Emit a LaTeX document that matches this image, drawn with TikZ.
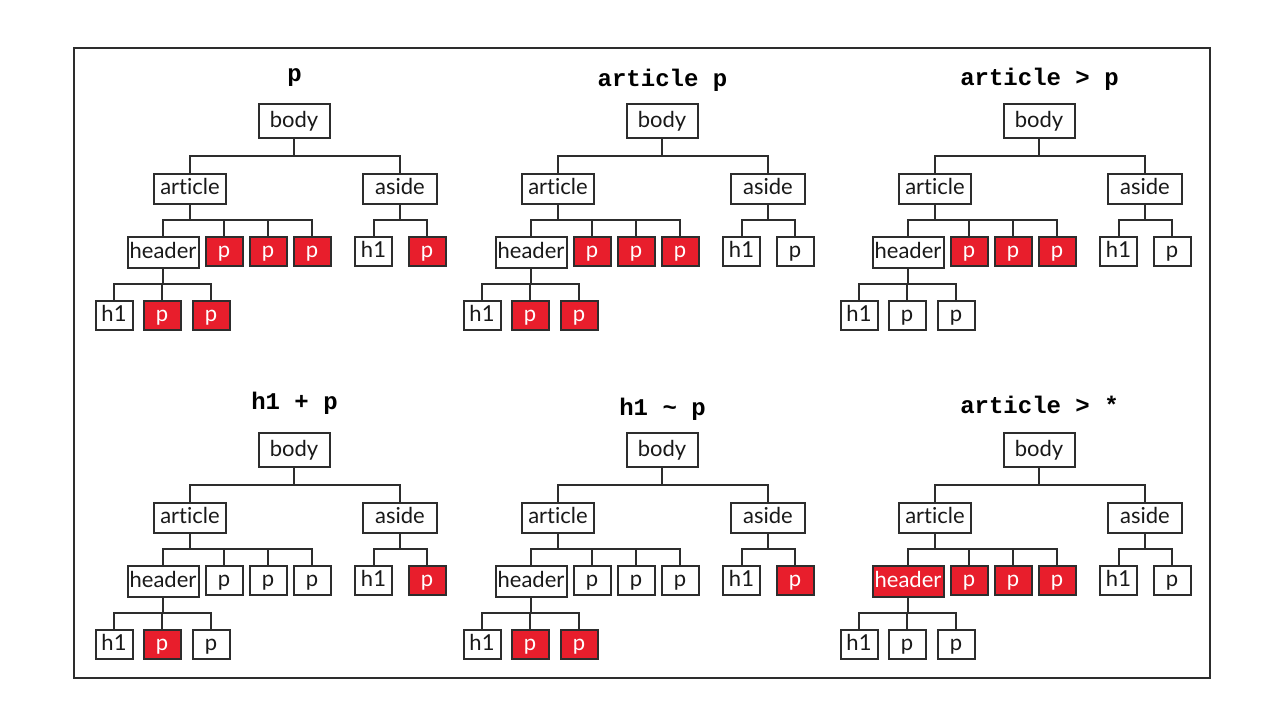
\documentclass[tikz,border=0pt]{standalone}
\usepackage{fontspec}
\setmainfont{Lato}[Ligatures=NoCommon]
\newfontfamily\codefont{Liberation Mono}
\usetikzlibrary{calc}

\definecolor{hitred}{RGB}{232,30,44}
\definecolor{linegray}{RGB}{45,45,45}

\tikzset{
  elem/.style={draw=linegray, line width=1pt, fill=white, text=black!90, inner sep=0pt,
    anchor=north, minimum height=14.5pt, text height=8.6pt, text depth=2.4pt,
    font=\fontsize{11}{13}\selectfont},
  narrow/.style={minimum width=18.5pt},
  hit/.style={fill=hitred, text=white},
  wire/.style={draw=linegray, line width=1pt},
  selector/.style={anchor=base, font=\codefont\bfseries\fontsize{12}{14}\selectfont},
  % matched elements, switched on per tree
  hl-header/.style={}, hl-p/.style={}, hl-asidep/.style={},
  hl-sub1/.style={}, hl-sub2/.style={}
}

% connector: parent bottom -> bus halfway -> child top
\newcommand{\link}[2]{\draw[wire] (#1.south) |- ($(#1.south)!.5!(#2.north)$) -| (#2.north);}

% one document tree, body centred at the scope origin
\newcommand{\domtree}[3]{%
  \node[selector] (#1sel) at (0.5,#3) {#2};
  \node[elem, minimum width=35.5pt, minimum height=17pt] (#1body) at (0,-17.5) {body};
  \node[elem, minimum width=36pt, minimum height=15pt] (#1article) at (-104,52) {article};
  \node[elem, minimum width=37pt, minimum height=15pt] (#1aside) at (106,52) {aside};
  \node[elem, minimum width=35.5pt, minimum height=15.5pt, hl-header] (#1header) at (-131,115) {header};
  \node[elem, narrow, hl-p] (#1pa) at (-70,115) {p};
  \node[elem, narrow, hl-p] (#1pb) at (-26,115) {p};
  \node[elem, narrow, hl-p] (#1pc) at (18,115) {p};
  \node[elem, narrow] (#1asideh) at (79.5,115) {h1};
  \node[elem, narrow, hl-asidep] (#1asidep) at (133,115) {p};
  \node[elem, narrow] (#1subh) at (-180,179) {h1};
  \node[elem, narrow, hl-sub1] (#1subpa) at (-132,179) {p};
  \node[elem, narrow, hl-sub2] (#1subpb) at (-83,179) {p};
  \link{#1body}{#1article}
  \link{#1body}{#1aside}
  \link{#1article}{#1header}
  \link{#1article}{#1pa}
  \link{#1article}{#1pb}
  \link{#1article}{#1pc}
  \link{#1aside}{#1asideh}
  \link{#1aside}{#1asidep}
  \link{#1header}{#1subh}
  \link{#1header}{#1subpa}
  \link{#1header}{#1subpb}
}

\begin{document}
\begin{tikzpicture}[x=0.5pt, y=-0.5pt]

    % Page and frame
    \useasboundingbox (0,0) rectangle (1280,720);
    \draw[linegray, line width=1pt] (74,48) rectangle (1210,678);

    % p
    \begin{scope}[shift={(294,120.5)}, hl-p/.style=hit, hl-asidep/.style=hit,
        hl-sub1/.style=hit, hl-sub2/.style=hit]
      \domtree{ta}{p}{-39}
    \end{scope}

    % article p
    \begin{scope}[shift={(662,120.5)}, hl-p/.style=hit, hl-sub1/.style=hit, hl-sub2/.style=hit]
      \domtree{tb}{article p}{-34.5}
    \end{scope}

    % article > p
    \begin{scope}[shift={(1039,120.5)}, hl-p/.style=hit]
      \domtree{tc}{article > p}{-35.5}
    \end{scope}

    % h1 + p
    \begin{scope}[shift={(294,449.5)}, hl-sub1/.style=hit, hl-asidep/.style=hit]
      \domtree{td}{h1 + p}{-40.5}
    \end{scope}

    % h1 ~ p
    \begin{scope}[shift={(662,449.5)}, hl-sub1/.style=hit, hl-sub2/.style=hit,
        hl-asidep/.style=hit]
      \domtree{te}{h1 \textasciitilde{} p}{-34.5}
    \end{scope}

    % article > *
    \begin{scope}[shift={(1039,449.5)}, hl-header/.style=hit, hl-p/.style=hit]
      \domtree{tf}{article > *}{-36.5}
    \end{scope}

  \end{tikzpicture}
\end{document}
